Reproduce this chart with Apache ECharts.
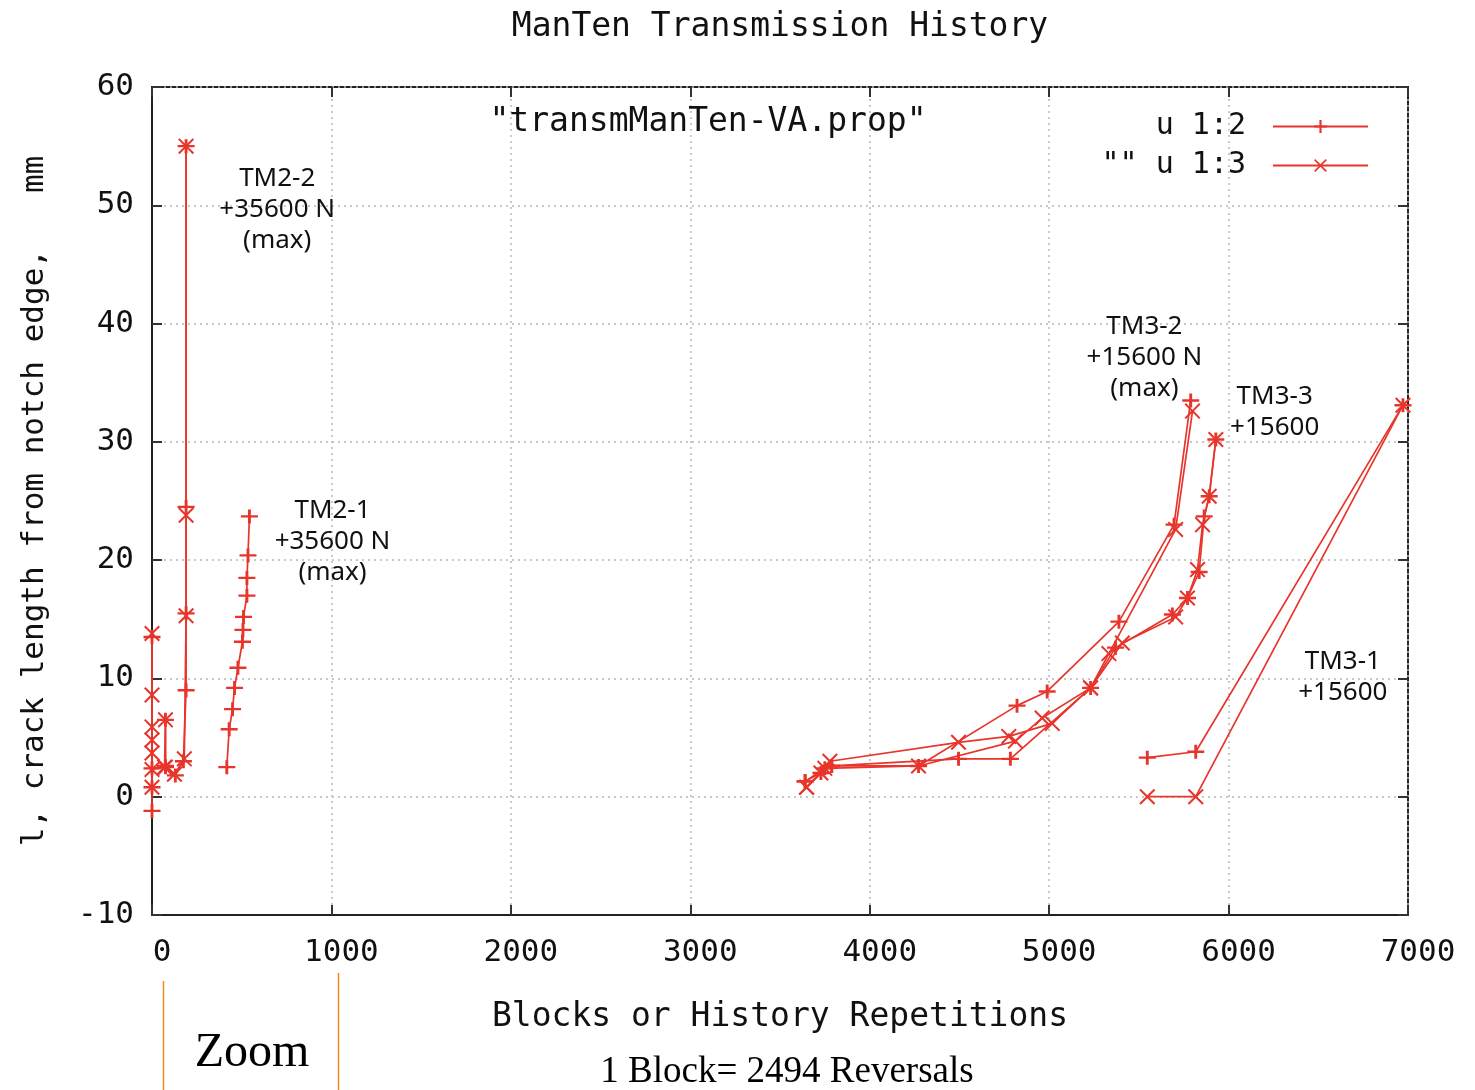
<!DOCTYPE html>
<html>
<head>
<meta charset="utf-8">
<script src="https://cdn.jsdelivr.net/npm/echarts@6/dist/echarts.min.js"></script>
<style>
html,body{margin:0;padding:0;background:#fff;}
#chart{width:1475px;height:1090px;}
</style>
</head>
<body>
<div id="chart"></div>
<script>
// ---- data (blocks, crack length mm) ----
const xTicks = [0, 1000, 2000, 3000, 4000, 5000, 6000, 7000];
const yTicks = [-10, 0, 10, 20, 30, 40, 50, 60];

// column 2 (u 1:2, "+")
const c2_TM22 = [[0,-1.2],[0,0.8],[0,13.5],[0,2.4],[75,2.5],[75,6.5],[75,2.6],[130,1.8],[175,3.0],[190,9.0],[190,15.5],[190,24.5],[190,55.0]];
const c2_TM21 = [[417,2.5],[430,5.7],[449,7.4],[460,9.2],[479,10.9],[504,13.1],[507,14.1],[510,15.2],[529,17.0],[529,18.5],[535,20.4],[543,23.7]];
const c2_TM32 = [[3640,1.3],[3728,2.0],[3788,2.6],[4272,2.6],[4821,7.7],[4989,8.9],[5389,14.8],[5696,23.0],[5789,33.5]];
const c2_TM33 = [[3640,1.3],[3750,2.4],[3788,2.6],[4495,3.2],[4784,3.2],[5231,9.2],[5370,12.6],[5687,15.4],[5771,16.8],[5836,19.0],[5864,23.7],[5892,25.4],[5929,30.2]];
const c2_TM31 = [[5547,3.3],[5817,3.8],[6972,33.1]];

// column 3 (u 1:3, "x")
const c3_TM22 = [[0,0.8],[0,3.7],[0,4.8],[0,5.9],[0,8.6],[0,13.8],[0,2.3],[70,2.5],[75,6.5],[75,2.5],[125,1.9],[180,3.2],[190,15.3],[190,23.8],[190,55.0]];
const c3_TM32 = [[3648,0.8],[3728,2.0],[3778,3.0],[4495,4.6],[4775,5.1],[5017,6.2],[5231,9.2],[5333,12.1],[5705,22.6],[5799,32.6]];
const c3_TM33 = [[3648,0.8],[3750,2.4],[4272,2.6],[4812,4.7],[4961,6.65],[5231,9.2],[5408,13.0],[5705,15.2],[5771,16.8],[5827,19.2],[5855,23.0],[5892,25.4],[5929,30.2]];
const c3_TM31 = [[5547,0.0],[5817,0.0],[6972,33.1]];

// annotations: [x, y, text]
const notes = [
  [698, 49.6, 'TM2-2\n+35600 N\n(max)'],
  [1006, 21.6, 'TM2-1\n+35600 N\n(max)'],
  [5531, 37.1, 'TM3-2\n+15600 N\n(max)'],
  [6257, 32.5, 'TM3-3\n+15600'],
  [6637, 10.1, 'TM3-1\n+15600']
];

function joinGroups(groups){
  const out = [];
  groups.forEach((g, i) => {
    if (i > 0) out.push(['-', '-']);
    g.forEach(p => out.push(p));
  });
  return out;
}

const RED = '#e8352c';
const MONO = '"DejaVu Sans Mono", monospace';
const plusPath = 'path://M0,8.3H20V11.7H0Z M8.3,0H11.7V20H8.3Z';
const crossPath = 'path://M1.8,0L10,8.2L18.2,0L20,1.8L11.8,10L20,18.2L18.2,20L10,11.8L1.8,20L0,18.2L8.2,10L0,1.8Z';

const chart = echarts.init(document.getElementById('chart'), null, {renderer: 'canvas'});

const axisTickStyle = {show: true, inside: true, length: 10, lineStyle: {color: '#333', width: 2}};
const gridLine = {show: true, lineStyle: {color: '#b8b8b8', type: [2, 4], width: 1.5}};

const option = {
  animation: false,
  backgroundColor: '#fff',
  grid: {left: 152, right: 67, top: 87, bottom: 175, show: true, borderColor: '#222', borderWidth: 2},
  legend: {
    orient: 'vertical', right: 101, top: 105, align: 'right',
    itemWidth: 95, itemHeight: 16, itemGap: 6,
    textStyle: {fontFamily: MONO, fontSize: 30, color: '#111', lineHeight: 33, padding: [0, 22, 0, 0]},
    data: ['u 1:2', '"" u 1:3']
  },
  xAxis: [{
    type: 'value', min: 0, max: 7000, interval: 1000,
    name: 'Blocks or History Repetitions', nameLocation: 'middle', nameGap: 86,
    nameTextStyle: {fontFamily: MONO, fontSize: 33, color: '#111'},
    axisLine: {show: true, onZero: false, lineStyle: {color: '#222', width: 2}},
    axisTick: axisTickStyle,
    axisLabel: {fontFamily: MONO, fontSize: 31, color: '#111', margin: 22, padding: [0, 0, 0, 20],
                formatter: v => String(v)},
    splitLine: gridLine
  }, {
    type: 'value', min: 0, max: 7000, interval: 1000, position: 'top',
    axisLine: {show: false, onZero: false}, axisTick: axisTickStyle, axisLabel: {show: false}, splitLine: {show: false}
  }],
  yAxis: [{
    type: 'value', min: -10, max: 60, interval: 10,
    name: 'l, crack length from notch edge,   mm', nameLocation: 'middle', nameGap: 102, nameRotate: 90,
    nameTextStyle: {fontFamily: MONO, fontSize: 31, color: '#111'},
    axisLine: {show: true, onZero: false, lineStyle: {color: '#222', width: 2}},
    axisTick: axisTickStyle,
    axisLabel: {fontFamily: MONO, fontSize: 31, color: '#111', margin: 18, formatter: v => String(v)},
    splitLine: gridLine
  }, {
    type: 'value', min: -10, max: 60, interval: 10, position: 'right',
    axisLine: {show: false, onZero: false}, axisTick: axisTickStyle, axisLabel: {show: false}, splitLine: {show: false}
  }],
  series: [{
    name: 'u 1:2', type: 'line', xAxisIndex: 0, yAxisIndex: 0,
    data: joinGroups([c2_TM22, c2_TM21, c2_TM32, c2_TM33, c2_TM31]),
    connectNulls: false, showAllSymbol: true,
    symbol: plusPath, symbolSize: [17, 14],
    itemStyle: {color: RED},
    lineStyle: {color: RED, width: 1.7}
  }, {
    name: '"" u 1:3', type: 'line', xAxisIndex: 0, yAxisIndex: 0,
    data: joinGroups([c3_TM22, c3_TM32, c3_TM33, c3_TM31]),
    connectNulls: false, showAllSymbol: true,
    symbol: crossPath, symbolSize: 16,
    itemStyle: {color: RED},
    lineStyle: {color: RED, width: 1.7}
  }]
};
chart.setOption(option);

// texts placed in data coordinates + page texts
const graphics = [];
notes.forEach(n => {
  const p = chart.convertToPixel({xAxisIndex: 0, yAxisIndex: 0}, [n[0], n[1]]);
  graphics.push({
    type: 'text', x: p[0], y: p[1],
    style: {text: n[2], fontFamily: '"Noto Sans", sans-serif', fontSize: 26, lineHeight: 31,
            fill: '#111', align: 'center', verticalAlign: 'middle'}
  });
});
graphics.push({type: 'text', x: 780, y: 27,
  style: {text: 'ManTen Transmission History', fontFamily: MONO, fontSize: 33, fill: '#111', align: 'center', verticalAlign: 'middle'}});
graphics.push({type: 'text', x: 708, y: 122,
  style: {text: '"transmManTen-VA.prop"', fontFamily: MONO, fontSize: 33, fill: '#111', align: 'center', verticalAlign: 'middle'}});
graphics.push({type: 'line', shape: {x1: 163.5, y1: 981, x2: 163.5, y2: 1090}, style: {stroke: '#f0881e', lineWidth: 1.5}});
graphics.push({type: 'line', shape: {x1: 338.5, y1: 973, x2: 338.5, y2: 1090}, style: {stroke: '#f0881e', lineWidth: 1.5}});
graphics.push({type: 'text', x: 252, y: 1053,
  style: {text: 'Zoom', fontFamily: '"Liberation Serif", serif', fontSize: 48, fill: '#000', align: 'center', verticalAlign: 'middle'}});
graphics.push({type: 'text', x: 787, y: 1072,
  style: {text: '1 Block= 2494 Reversals', fontFamily: '"Liberation Serif", serif', fontSize: 37, fill: '#000', align: 'center', verticalAlign: 'middle'}});
chart.setOption({graphic: graphics});
</script>
</body>
</html>
